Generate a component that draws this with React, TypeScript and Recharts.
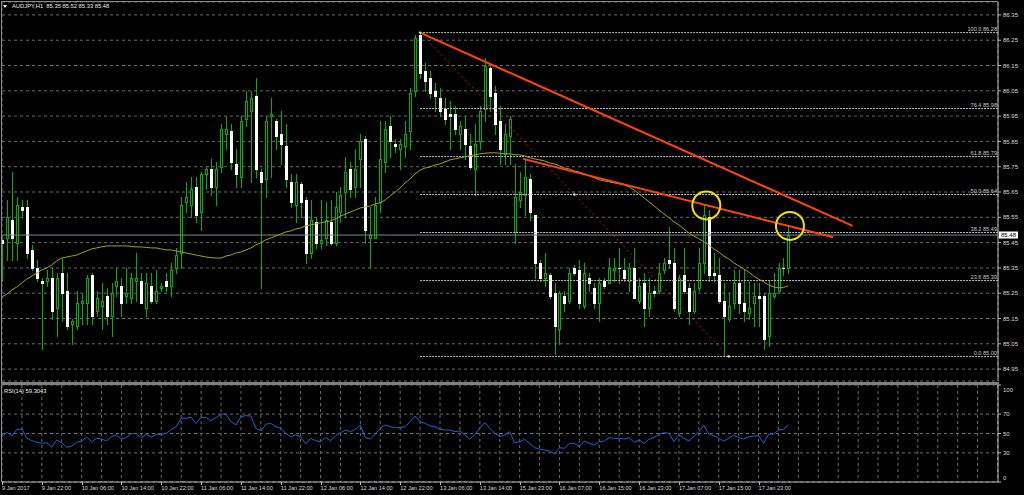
import React from 'react';
import {
  ComposedChart,
  LineChart,
  Bar,
  Line,
  XAxis,
  YAxis,
  CartesianGrid,
  ReferenceLine,
  ReferenceDot,
} from 'recharts';

// AUDJPY H1 candles, one entry per bar
const opens = [
  85.46, 85.47, 85.54, 85.45, 85.59, 85.59, 85.42, 85.35, 85.30, 85.30,
  85.31, 85.19, 85.33, 85.26, 85.13, 85.12, 85.21, 85.21, 85.32, 85.18,
  85.20, 85.24, 85.16, 85.28, 85.28, 85.24, 85.23, 85.30, 85.30, 85.19,
  85.28, 85.22, 85.27, 85.30, 85.28, 85.35, 85.41, 85.61, 85.60, 85.67,
  85.57, 85.72, 85.74, 85.67, 85.75, 85.88, 85.89, 85.76, 85.71, 85.94,
  85.97, 86.03, 85.73, 85.70, 85.95, 85.93, 85.88, 85.83, 85.69, 85.60,
  85.68, 85.62, 85.41, 85.53, 85.45, 85.47, 85.53, 85.45, 85.57, 85.65,
  85.74, 85.67, 85.78, 85.86, 85.47, 85.47, 85.61, 85.77, 85.91, 85.84,
  85.82, 85.83, 85.89, 86.05, 86.27, 86.13, 86.10, 86.05, 86.02, 85.98,
  85.96, 85.96, 85.88, 85.90, 85.83, 85.74, 85.85, 85.98, 86.14, 86.04,
  85.93, 85.80, 85.87, 85.49, 85.62, 85.64, 85.70, 85.56, 85.37, 85.31,
  85.32, 85.25, 85.11, 85.24, 85.22, 85.35, 85.34, 85.20, 85.31, 85.27,
  85.21, 85.30, 85.29, 85.34, 85.35, 85.34, 85.30, 85.35, 85.22, 85.29,
  85.19, 85.26, 85.26, 85.34, 85.38, 85.37, 85.17, 85.32, 85.27, 85.18,
  85.27, 85.37, 85.55, 85.33, 85.32, 85.22, 85.15, 85.21, 85.29, 85.21,
  85.17, 85.21, 85.24, 85.24, 85.08, 85.24, 85.26, 85.35, 85.35,
];
const highs = [
  85.48, 85.62, 85.73, 85.63, 85.62, 85.62, 85.44, 85.38, 85.31, 85.34,
  85.35, 85.33, 85.39, 85.33, 85.15, 85.26, 85.25, 85.32, 85.33, 85.26,
  85.29, 85.27, 85.29, 85.35, 85.31, 85.35, 85.33, 85.41, 85.33, 85.33,
  85.33, 85.34, 85.29, 85.33, 85.37, 85.43, 85.63, 85.69, 85.71, 85.71,
  85.73, 85.75, 85.78, 85.77, 85.92, 85.95, 85.92, 85.82, 85.95, 86.05,
  86.05, 86.10, 85.74, 85.95, 86.02, 85.94, 85.97, 85.92, 85.72, 85.72,
  85.69, 85.63, 85.62, 85.55, 85.62, 85.61, 85.62, 85.65, 85.67, 85.79,
  85.77, 85.82, 85.88, 85.87, 85.59, 85.63, 85.93, 85.93, 85.95, 85.86,
  85.86, 85.93, 86.06, 86.27, 86.28, 86.16, 86.13, 86.08, 86.06, 86.02,
  86.01, 85.99, 85.93, 85.95, 85.88, 85.92, 85.99, 86.18, 86.16, 86.07,
  85.99, 85.92, 85.95, 85.76, 85.73, 85.78, 85.72, 85.56, 85.38, 85.41,
  85.33, 85.29, 85.26, 85.26, 85.35, 85.36, 85.38, 85.37, 85.33, 85.29,
  85.31, 85.31, 85.39, 85.39, 85.43, 85.39, 85.37, 85.43, 85.31, 85.33,
  85.31, 85.28, 85.37, 85.39, 85.51, 85.43, 85.32, 85.43, 85.29, 85.29,
  85.43, 85.60, 85.58, 85.41, 85.39, 85.29, 85.25, 85.34, 85.34, 85.34,
  85.30, 85.29, 85.29, 85.25, 85.30, 85.33, 85.37, 85.39, 85.52,
];
const lows = [
  85.30, 85.38, 85.38, 85.38, 85.55, 85.39, 85.34, 85.30, 85.03, 85.28,
  85.15, 85.08, 85.14, 85.11, 85.05, 85.11, 85.13, 85.13, 85.13, 85.16,
  85.11, 85.13, 85.08, 85.24, 85.16, 85.21, 85.21, 85.22, 85.21, 85.16,
  85.21, 85.21, 85.26, 85.26, 85.24, 85.33, 85.35, 85.57, 85.55, 85.53,
  85.50, 85.66, 85.64, 85.60, 85.73, 85.82, 85.74, 85.67, 85.67, 85.91,
  85.69, 85.71, 85.27, 85.63, 85.71, 85.82, 85.76, 85.67, 85.59, 85.53,
  85.55, 85.37, 85.39, 85.43, 85.43, 85.44, 85.44, 85.44, 85.53, 85.55,
  85.63, 85.63, 85.67, 85.45, 85.35, 85.47, 85.57, 85.73, 85.79, 85.81,
  85.74, 85.79, 85.82, 86.03, 86.10, 86.05, 86.02, 85.97, 85.95, 85.92,
  85.82, 85.88, 85.82, 85.78, 85.74, 85.64, 85.82, 85.93, 85.97, 85.88,
  85.76, 85.76, 85.76, 85.45, 85.59, 85.56, 85.54, 85.31, 85.30, 85.28,
  85.23, 85.01, 85.05, 85.18, 85.21, 85.32, 85.19, 85.19, 85.26, 85.19,
  85.14, 85.27, 85.29, 85.30, 85.29, 85.30, 85.26, 85.23, 85.21, 85.12,
  85.16, 85.24, 85.25, 85.33, 85.35, 85.18, 85.16, 85.25, 85.13, 85.17,
  85.26, 85.33, 85.30, 85.30, 85.21, 85.00, 85.14, 85.19, 85.17, 85.14,
  85.15, 85.12, 85.12, 85.03, 85.04, 85.23, 85.25, 85.32, 85.33,
];
const closes = [
  85.45, 85.55, 85.47, 85.60, 85.58, 85.41, 85.35, 85.31, 85.29, 85.31,
  85.18, 85.31, 85.25, 85.12, 85.14, 85.21, 85.22, 85.31, 85.16, 85.23,
  85.22, 85.16, 85.25, 85.30, 85.21, 85.25, 85.31, 85.31, 85.21, 85.29,
  85.22, 85.26, 85.28, 85.28, 85.34, 85.40, 85.60, 85.63, 85.66, 85.56,
  85.72, 85.74, 85.67, 85.74, 85.90, 85.90, 85.77, 85.72, 85.93, 86.01,
  86.02, 85.74, 85.69, 85.93, 85.96, 85.87, 85.84, 85.70, 85.61, 85.69,
  85.61, 85.41, 85.54, 85.45, 85.46, 85.54, 85.45, 85.59, 85.64, 85.73,
  85.66, 85.74, 85.85, 85.50, 85.48, 85.60, 85.78, 85.90, 85.85, 85.83,
  85.84, 85.88, 86.04, 86.26, 86.12, 86.09, 86.04, 86.03, 85.97, 85.94,
  85.95, 85.90, 85.91, 85.84, 85.75, 85.84, 85.97, 86.15, 86.03, 85.92,
  85.82, 85.88, 85.94, 85.63, 85.65, 85.71, 85.57, 85.37, 85.31, 85.33,
  85.24, 85.12, 85.25, 85.21, 85.33, 85.33, 85.21, 85.33, 85.29, 85.21,
  85.29, 85.28, 85.35, 85.35, 85.35, 85.31, 85.35, 85.23, 85.28, 85.19,
  85.25, 85.25, 85.33, 85.37, 85.37, 85.19, 85.31, 85.26, 85.18, 85.26,
  85.37, 85.56, 85.32, 85.32, 85.22, 85.16, 85.20, 85.29, 85.21, 85.18,
  85.19, 85.24, 85.23, 85.07, 85.25, 85.25, 85.35, 85.35, 85.48,
];
// moving average (yellow line)
const maValues = [
  85.235, 85.247, 85.263, 85.275, 85.291, 85.306, 85.318, 85.330, 85.342, 85.350,
  85.362, 85.378, 85.389, 85.393, 85.397, 85.401, 85.409, 85.417, 85.425, 85.429,
  85.433, 85.437, 85.437, 85.437, 85.437, 85.437, 85.435, 85.433, 85.433, 85.431,
  85.429, 85.429, 85.425, 85.421, 85.421, 85.417, 85.413, 85.409, 85.405, 85.401,
  85.397, 85.393, 85.391, 85.389, 85.389, 85.397, 85.401, 85.409, 85.413, 85.421,
  85.429, 85.441, 85.449, 85.461, 85.468, 85.476, 85.484, 85.492, 85.496, 85.504,
  85.508, 85.516, 85.520, 85.524, 85.528, 85.532, 85.536, 85.544, 85.555, 85.563,
  85.571, 85.579, 85.587, 85.591, 85.595, 85.603, 85.607, 85.619, 85.635, 85.650,
  85.666, 85.686, 85.702, 85.722, 85.737, 85.745, 85.749, 85.757, 85.761, 85.769,
  85.777, 85.781, 85.785, 85.789, 85.793, 85.797, 85.801, 85.803, 85.805, 85.805,
  85.803, 85.801, 85.801, 85.797, 85.797, 85.793, 85.785, 85.781, 85.777, 85.773,
  85.765, 85.761, 85.753, 85.745, 85.741, 85.733, 85.729, 85.722, 85.714, 85.706,
  85.698, 85.694, 85.690, 85.686, 85.682, 85.678, 85.670, 85.658, 85.642, 85.627,
  85.611, 85.595, 85.579, 85.563, 85.548, 85.532, 85.520, 85.504, 85.488, 85.476,
  85.465, 85.453, 85.441, 85.425, 85.413, 85.397, 85.386, 85.370, 85.358, 85.346,
  85.334, 85.318, 85.306, 85.295, 85.283, 85.275, 85.271, 85.273, 85.279,
];
// RSI(14)
const rsiValues = [
  46.7, 51.2, 47.4, 54.3, 54.6, 45.1, 42.6, 40.9, 39.9, 40.5,
  35.8, 43.3, 40.5, 35.8, 37.1, 40.9, 42.3, 46.4, 41.5, 45.1,
  44.3, 42.3, 46.7, 48.5, 44.3, 45.7, 49.8, 49.8, 45.7, 49.2,
  46.4, 49.2, 49.2, 50.2, 54.3, 57.0, 65.7, 65.7, 66.7, 60.5,
  66.7, 66.7, 63.2, 66.3, 70.1, 69.8, 62.2, 58.8, 67.3, 68.4,
  68.0, 55.4, 52.6, 59.5, 60.5, 57.0, 55.4, 50.2, 46.7, 48.5,
  46.7, 39.2, 45.1, 42.6, 41.5, 46.1, 42.6, 47.4, 50.8, 53.6,
  51.9, 54.3, 58.8, 45.7, 44.3, 49.2, 55.4, 58.8, 57.0, 56.0,
  56.0, 57.0, 62.2, 68.0, 62.2, 60.5, 57.7, 57.0, 54.6, 53.6,
  53.6, 51.9, 52.6, 48.5, 44.0, 49.2, 55.4, 61.5, 55.4, 50.2,
  46.7, 48.5, 51.9, 40.5, 41.5, 44.0, 39.9, 35.4, 34.0, 33.0,
  32.0, 28.9, 35.4, 34.7, 39.9, 39.9, 36.4, 42.3, 39.9, 38.1,
  41.5, 42.3, 45.7, 45.1, 45.1, 44.3, 45.7, 40.9, 43.3, 39.9,
  44.0, 45.7, 49.2, 50.8, 50.2, 41.5, 48.5, 45.1, 42.3, 46.7,
  51.9, 58.8, 49.2, 47.7, 45.1, 42.3, 45.1, 48.5, 45.7, 44.3,
  46.7, 47.4, 47.7, 39.9, 49.2, 49.2, 53.6, 54.3, 59.3,
];
// one label every 8 bars
const timeLabels = [
  '9 Jan 2017', '9 Jan 22:00', '10 Jan 06:00', '10 Jan 14:00', '10 Jan 22:00',
  '11 Jan 06:00', '11 Jan 14:00', '11 Jan 22:00', '12 Jan 06:00', '12 Jan 14:00',
  '12 Jan 22:00', '13 Jan 06:00', '13 Jan 14:00', '15 Jan 23:00', '16 Jan 07:00',
  '16 Jan 15:00', '16 Jan 23:00', '17 Jan 07:00', '17 Jan 15:00', '17 Jan 23:00',
];
const priceTicks = [
  84.95, 85.05, 85.15, 85.25, 85.35, 85.45, 85.55, 85.65, 85.75, 85.85,
  85.95, 86.05, 86.15, 86.25, 86.35,
];
const rsiTicks = [0, 30, 50, 70, 100];

// fibonacci retracement drawn from the 12 Jan high to the 17 Jan low
const fibLevels = ['0.0', '23.6', '38.2', '50.0', '61.8', '76.4', '100.0'];
const fibPrices = [85.0, 85.3, 85.49, 85.64, 85.79, 85.98, 86.28];
const fibAnchors = [
  { x: 84, y: 86.28 },
  { x: 115, y: 85.64 },
  { x: 146, y: 85.0 },
];
const upperTrend = [
  { x: 84, y: 86.28 },
  { x: 170.9, y: 85.516 },
];
const lowerTrend = [
  { x: 104.7, y: 85.781 },
  { x: 167, y: 85.471 },
];
const circles = [
  { x: 141.5, y: 85.597 },
  { x: 158.3, y: 85.516 },
];
const bidPrice = 85.48;
const title = 'AUDJPY,H1  85.35 85.52 85.33 85.48';
const rsiTitle = 'RSI(14) 59.3043';

const X_MAX = 200.1;
const PRICE_MIN = 84.903;
const PRICE_MAX = 86.401;

const GREEN = '#00b000';
const GRID = '#6a6a6a';
const AXIS = '#b8b8b8';
const TEXT = '#d8d8d8';
const FONT = '"Liberation Sans", Arial, sans-serif';

const gridTicks: number[] = [];
for (let t = 0; t <= X_MAX; t += 4) gridTicks.push(t);

const candles = opens.map((o, i) => ({
  k: i,
  o,
  h: highs[i],
  l: lows[i],
  c: closes[i],
  range: [lows[i], highs[i]],
  ma: maValues[i],
}));
const rsiData = rsiValues.map((v, i) => ({ k: i, rsi: v }));

const CandleShape = (props: any) => {
  const { x, y, width, height, payload } = props;
  if (!payload) return null;
  const top = Math.min(y, y + height);
  const bottom = Math.max(y, y + height);
  const span = payload.h - payload.l || 1e-6;
  const yOf = (p: number) => top + ((payload.h - p) / span) * (bottom - top);
  const cx = Math.round(x + width / 2) + 0.5;
  const bodyTop = Math.round(yOf(Math.max(payload.o, payload.c)));
  const bodyBot = Math.round(yOf(Math.min(payload.o, payload.c)));
  const bull = payload.c > payload.o;
  let body;
  if (bodyBot - bodyTop < 1) {
    body = <line x1={cx - 1.5} x2={cx + 1.5} y1={bodyTop + 0.5} y2={bodyTop + 0.5} stroke={bull ? GREEN : '#ffffff'} />;
  } else if (bull) {
    body = (
      <rect x={cx - 1} y={bodyTop + 0.5} width={2} height={bodyBot - bodyTop} fill="#000000" stroke={GREEN} />
    );
  } else {
    body = <rect x={cx - 1.5} y={bodyTop} width={3} height={bodyBot - bodyTop + 1} fill="#ffffff" />;
  }
  return (
    <g shapeRendering="crispEdges">
      <line x1={cx} x2={cx} y1={Math.round(top)} y2={Math.round(bottom) + 1} stroke={GREEN} />
      {body}
    </g>
  );
};

const TimeTick = (props: any) => {
  const { x, y, payload } = props;
  const idx = payload.value / 8;
  if (!Number.isInteger(idx) || idx >= timeLabels.length) return null;
  const px = Math.round(x) + 0.5;
  return (
    <g>
      <line x1={px} x2={px} y1={y} y2={y + 3} stroke={AXIS} />
      <text x={x} y={y + 8} fontSize={5.6} fill={TEXT} fontFamily={FONT}>
        {timeLabels[idx]}
      </text>
    </g>
  );
};

const RsiTick = (props: any) => {
  const { x, y, payload } = props;
  const v = payload.value;
  const dy = v === 100 ? 5 : v === 0 ? -4 : 0;
  return (
    <text x={x} y={y + dy} dy="0.35em" fontSize={6} fill={TEXT} fontFamily={FONT}>
      {v}
    </text>
  );
};

const fibLabel = (text: string) => (props: any) => {
  const vb = props.viewBox || {};
  return (
    <text
      x={vb.x + vb.width - 1}
      y={vb.y - 1.5}
      textAnchor="end"
      fontSize={5.6}
      fill="#c8c8c8"
      fontFamily={FONT}
    >
      {text}
    </text>
  );
};

const bidLabel = (props: any) => {
  const vb = props.viewBox || {};
  const bx = vb.x + vb.width + 1;
  return (
    <g>
      <rect x={bx} y={vb.y - 3.5} width={19} height={7} fill="#ffffff" />
      <text x={bx + 2} y={vb.y} dy="0.35em" fontSize={6} fill="#000000" fontFamily={FONT}>
        {bidPrice.toFixed(2)}
      </text>
    </g>
  );
};

export default function App() {
  return (
    <div
      style={{
        position: 'absolute',
        left: 0,
        top: 0,
        width: 1024,
        height: 495,
        background: '#000000',
        overflow: 'hidden',
        fontFamily: FONT,
      }}
    >
      {/* price panel */}
      <div style={{ position: 'absolute', left: 0, top: 0 }}>
        <ComposedChart
          width={1024}
          height={383}
          data={candles}
          margin={{ top: 2, right: 0, bottom: 2, left: 2 }}
        >
          <CartesianGrid stroke={GRID} strokeDasharray="3 3" />
          <XAxis
            type="number"
            dataKey="k"
            domain={[0, X_MAX]}
            ticks={gridTicks}
            interval={0}
            allowDataOverflow
            height={0}
            tick={false}
            tickLine={false}
            axisLine={false}
          />
          <YAxis
            orientation="right"
            width={26}
            domain={[PRICE_MIN, PRICE_MAX]}
            ticks={priceTicks}
            interval={0}
            allowDataOverflow
            tickSize={3}
            tickMargin={2}
            stroke={AXIS}
            tick={{ fontSize: 6, fill: TEXT, fontFamily: FONT }}
            tickFormatter={(v: number) => v.toFixed(2)}
          />
          {fibPrices.map((p, i) => (
            <ReferenceLine
              key={'fib' + i}
              segment={[
                { x: fibAnchors[0].x, y: p },
                { x: X_MAX, y: p },
              ]}
              stroke="#c0c0c0"
              strokeDasharray="2 1"
              label={fibLabel(`${fibLevels[i]} ${p.toFixed(2)}`)}
            />
          ))}
          <ReferenceLine
            segment={[fibAnchors[0], fibAnchors[2]]}
            stroke="#b01e1e"
            strokeDasharray="2 3"
          />
          <ReferenceLine y={bidPrice} stroke="#7a8896" label={bidLabel} />
          <Line
            dataKey="ma"
            stroke="#a8a200"
            strokeWidth={1}
            dot={false}
            isAnimationActive={false}
          />
          <Bar dataKey="range" barSize={3} shape={CandleShape} isAnimationActive={false} />
          <ReferenceLine segment={upperTrend} stroke="#ff4500" strokeWidth={2} />
          <ReferenceLine segment={lowerTrend} stroke="#ff4500" strokeWidth={2} />
          {fibAnchors.map((a, i) => (
            <ReferenceDot key={'fa' + i} x={a.x} y={a.y} r={1.2} fill="#e0e0e0" stroke="none" />
          ))}
          {circles.map((c, i) => (
            <ReferenceDot
              key={'c' + i}
              x={c.x}
              y={c.y}
              r={14}
              fill="none"
              stroke="#f2e000"
              strokeWidth={2}
            />
          ))}
        </ComposedChart>
      </div>

      {/* RSI panel */}
      <div style={{ position: 'absolute', left: 0, top: 384 }}>
        <LineChart
          width={1024}
          height={111}
          data={rsiData}
          margin={{ top: 1, right: 0, bottom: 0, left: 2 }}
        >
          <CartesianGrid stroke={GRID} strokeDasharray="3 3" />
          <XAxis
            type="number"
            dataKey="k"
            domain={[0, X_MAX]}
            ticks={gridTicks}
            interval={0}
            allowDataOverflow
            height={13}
            tickSize={0}
            tickMargin={0}
            tickLine={false}
            stroke={AXIS}
            tick={TimeTick}
          />
          <YAxis
            orientation="right"
            width={26}
            domain={[0, 100]}
            ticks={rsiTicks}
            interval={0}
            tickSize={3}
            tickMargin={2}
            stroke={AXIS}
            tick={RsiTick}
          />
          <Line
            dataKey="rsi"
            stroke="#1e64c8"
            strokeWidth={1}
            dot={false}
            isAnimationActive={false}
          />
        </LineChart>
      </div>

      {/* frame */}
      <div style={{ position: 'absolute', left: 1, top: 1, width: 997, height: 1, background: '#8a8a8a' }} />
      <div style={{ position: 'absolute', left: 1, top: 1, width: 1, height: 481, background: '#8a8a8a' }} />
      <div style={{ position: 'absolute', left: 1, top: 382, width: 998, height: 3, background: '#808080' }} />

      {/* titles */}
      <div
        style={{
          position: 'absolute',
          left: 3,
          top: 5,
          width: 0,
          height: 0,
          borderLeft: '2.5px solid transparent',
          borderRight: '2.5px solid transparent',
          borderTop: '3px solid #ffffff',
        }}
      />
      <div
        style={{
          position: 'absolute',
          left: 12,
          top: 2,
          fontSize: 5.8,
          lineHeight: '8px',
          color: '#e8e8e8',
          whiteSpace: 'pre',
        }}
      >
        {title}
      </div>
      <div
        style={{
          position: 'absolute',
          left: 4,
          top: 387,
          fontSize: 5.8,
          lineHeight: '8px',
          color: '#e8e8e8',
          whiteSpace: 'pre',
        }}
      >
        {rsiTitle}
      </div>
    </div>
  );
}
